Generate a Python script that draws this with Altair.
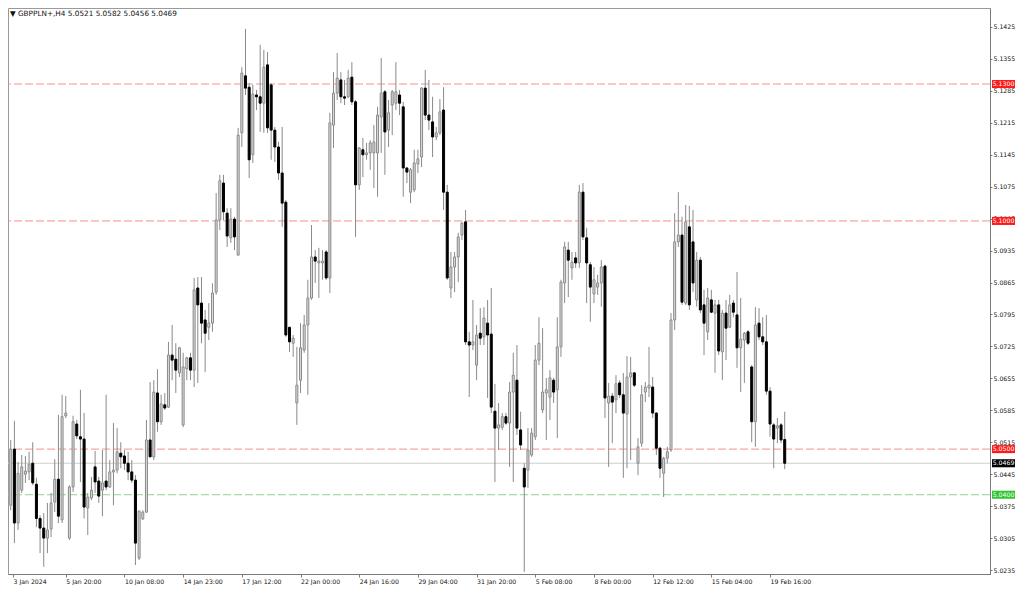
import altair as alt
import pandas as pd

# ---- candle data (H4 bars) ----
open_ = [
    5.0348, 5.0377, 5.0500, 5.0338, 5.0410, 5.0445, 5.0450, 5.0469, 5.0423, 5.0348,
    5.0327, 5.0305, 5.0325, 5.0384, 5.0434, 5.0345, 5.0573, 5.0305, 5.0417, 5.0555,
    5.0527, 5.0522, 5.0371, 5.0393, 5.0461, 5.0430, 5.0410, 5.0430, 5.0417, 5.0450,
    5.0454, 5.0491, 5.0485, 5.0469, 5.0450, 5.0432, 5.0261, 5.0347, 5.0362, 5.0520,
    5.0483, 5.0623, 5.0560, 5.0597, 5.0592, 5.0706, 5.0697, 5.0667, 5.0553, 5.0676,
    5.0700, 5.0673, 5.0853, 5.0820, 5.0783, 5.0767, 5.0776, 5.0844, 5.1002, 5.1083,
    5.1017, 5.0963, 5.1004, 5.0925, 5.1193, 5.1318, 5.1293, 5.1145, 5.1276, 5.1272,
    5.1258, 5.1342, 5.1298, 5.1199, 5.1162, 5.1105, 5.1041, 5.0767, 5.0732, 5.0601,
    5.0651, 5.0717, 5.0772, 5.0831, 5.0921, 5.0908, 5.0908, 5.0932, 5.0875, 5.1210,
    5.1280, 5.1309, 5.1272, 5.1272, 5.1315, 5.1261, 5.1079, 5.1156, 5.1145, 5.1149,
    5.1149, 5.1149, 5.1228, 5.1283, 5.1199, 5.1254, 5.1258, 5.1276, 5.1250, 5.1116,
    5.1063, 5.1068, 5.1125, 5.1140, 5.1291, 5.1232, 5.1217, 5.1184, 5.1193, 5.1243,
    5.1063, 5.0853, 5.0899, 5.0921, 5.0969, 5.0998, 5.0735, 5.0728, 5.0684, 5.0754,
    5.0746, 5.0776, 5.0752, 5.0583, 5.0546, 5.0548, 5.0571, 5.0557, 5.0625, 5.0651,
    5.0542, 5.0458, 5.0454, 5.0487, 5.0527, 5.0695, 5.0586, 5.0623, 5.0614, 5.0651,
    5.0630, 5.0724, 5.0864, 5.0936, 5.0897, 5.0919, 5.0908, 5.1063, 5.0963, 5.0904,
    5.0840, 5.0855, 5.0864, 5.0901, 5.0601, 5.0616, 5.0608, 5.0645, 5.0619, 5.0577,
    5.0658, 5.0667, 5.0469, 5.0513, 5.0625, 5.0634, 5.0636, 5.0579, 5.0502, 5.0447,
    5.0480, 5.0498, 5.0783, 5.0954, 5.0969, 5.0820, 5.0987, 5.0954, 5.0827, 5.0914,
    5.0816, 5.0757, 5.0827, 5.0798, 5.0816, 5.0713, 5.0798, 5.0767, 5.0820, 5.0794,
    5.0722, 5.0739, 5.0757, 5.0680, 5.0560, 5.0776, 5.0746, 5.0735, 5.0627, 5.0553,
    5.0546, 5.0553, 5.0521,
]
high = [
    5.0388, 5.0520, 5.0562, 5.0472, 5.0487, 5.0485, 5.0494, 5.0515, 5.0437, 5.0355,
    5.0360, 5.0382, 5.0404, 5.0478, 5.0575, 5.0619, 5.0616, 5.0421, 5.0573, 5.0564,
    5.0630, 5.0579, 5.0404, 5.0439, 5.0496, 5.0439, 5.0498, 5.0619, 5.0476, 5.0557,
    5.0546, 5.0515, 5.0498, 5.0494, 5.0476, 5.0443, 5.0366, 5.0366, 5.0564, 5.0647,
    5.0651, 5.0675, 5.0619, 5.0623, 5.0735, 5.0772, 5.0732, 5.0724, 5.0711, 5.0702,
    5.0711, 5.0875, 5.0877, 5.0877, 5.0805, 5.0820, 5.0863, 5.1061, 5.1101, 5.1101,
    5.1028, 5.1028, 5.1009, 5.1204, 5.1337, 5.1421, 5.1302, 5.1298, 5.1287, 5.1386,
    5.1375, 5.1370, 5.1302, 5.1206, 5.1173, 5.1206, 5.1046, 5.0767, 5.0750, 5.0724,
    5.0776, 5.0794, 5.0871, 5.0991, 5.0936, 5.0941, 5.0936, 5.0936, 5.1237, 5.1326,
    5.1368, 5.1326, 5.1309, 5.1331, 5.1348, 5.1265, 5.1162, 5.1182, 5.1171, 5.1177,
    5.1210, 5.1250, 5.1357, 5.1287, 5.1265, 5.1287, 5.1348, 5.1287, 5.1261, 5.1118,
    5.1116, 5.1156, 5.1156, 5.1293, 5.1331, 5.1309, 5.1272, 5.1206, 5.1267, 5.1293,
    5.1079, 5.0932, 5.0932, 5.0974, 5.0998, 5.1024, 5.0757, 5.0827, 5.0772, 5.0809,
    5.0811, 5.0827, 5.0853, 5.0643, 5.0601, 5.0579, 5.0579, 5.0647, 5.0711, 5.0728,
    5.0582, 5.0469, 5.0546, 5.0546, 5.0728, 5.0789, 5.0765, 5.0656, 5.0673, 5.0656,
    5.0789, 5.0871, 5.0954, 5.0954, 5.0932, 5.0932, 5.1079, 5.1083, 5.0985, 5.0910,
    5.0899, 5.0882, 5.0914, 5.0904, 5.0645, 5.0623, 5.0662, 5.0651, 5.0667, 5.0704,
    5.0702, 5.0669, 5.0524, 5.0640, 5.0647, 5.0724, 5.0658, 5.0581, 5.0505, 5.0483,
    5.0505, 5.0798, 5.1017, 5.1063, 5.1009, 5.1035, 5.1033, 5.1024, 5.0932, 5.0921,
    5.0849, 5.0853, 5.0849, 5.0827, 5.0827, 5.0805, 5.0827, 5.0838, 5.0827, 5.0888,
    5.0831, 5.0757, 5.0761, 5.0684, 5.0811, 5.0809, 5.0789, 5.0794, 5.0636, 5.0557,
    5.0568, 5.0557, 5.0582,
]
low = [
    5.0338, 5.0366, 5.0294, 5.0323, 5.0404, 5.0426, 5.0432, 5.0421, 5.0329, 5.0272,
    5.0242, 5.0272, 5.0307, 5.0362, 5.0338, 5.0338, 5.0568, 5.0301, 5.0406, 5.0522,
    5.0428, 5.0348, 5.0312, 5.0388, 5.0404, 5.0382, 5.0353, 5.0410, 5.0415, 5.0377,
    5.0447, 5.0458, 5.0454, 5.0432, 5.0426, 5.0246, 5.0257, 5.0345, 5.0360, 5.0483,
    5.0476, 5.0538, 5.0553, 5.0586, 5.0590, 5.0651, 5.0623, 5.0658, 5.0548, 5.0651,
    5.0651, 5.0636, 5.0645, 5.0732, 5.0669, 5.0739, 5.0757, 5.0838, 5.0980, 5.1002,
    5.0943, 5.0952, 5.0936, 5.0925, 5.1162, 5.1276, 5.1094, 5.1127, 5.1243, 5.1195,
    5.1193, 5.1193, 5.1134, 5.1129, 5.1090, 5.0987, 5.0746, 5.0713, 5.0702, 5.0553,
    5.0623, 5.0711, 5.0619, 5.0827, 5.0864, 5.0831, 5.0871, 5.0871, 5.0842, 5.1160,
    5.1265, 5.1258, 5.1254, 5.1269, 5.1254, 5.0965, 5.1068, 5.1096, 5.1134, 5.1112,
    5.1072, 5.1053, 5.1149, 5.1101, 5.1162, 5.1188, 5.1243, 5.1232, 5.1053, 5.1083,
    5.1039, 5.1063, 5.1105, 5.1118, 5.1221, 5.1199, 5.1140, 5.1177, 5.1188, 5.1024,
    5.0871, 5.0831, 5.0844, 5.0866, 5.0958, 5.0728, 5.0614, 5.0717, 5.0651, 5.0728,
    5.0728, 5.0612, 5.0579, 5.0428, 5.0498, 5.0542, 5.0553, 5.0461, 5.0428, 5.0531,
    5.0498, 5.0231, 5.0415, 5.0483, 5.0520, 5.0684, 5.0579, 5.0520, 5.0564, 5.0601,
    5.0524, 5.0702, 5.0820, 5.0833, 5.0871, 5.0897, 5.0897, 5.0958, 5.0820, 5.0779,
    5.0820, 5.0838, 5.0812, 5.0568, 5.0461, 5.0513, 5.0579, 5.0612, 5.0437, 5.0458,
    5.0476, 5.0636, 5.0443, 5.0505, 5.0603, 5.0614, 5.0568, 5.0487, 5.0437, 5.0395,
    5.0469, 5.0494, 5.0761, 5.0943, 5.0816, 5.0816, 5.0805, 5.0844, 5.0812, 5.0798,
    5.0706, 5.0739, 5.0798, 5.0667, 5.0706, 5.0651, 5.0695, 5.0765, 5.0789, 5.0678,
    5.0625, 5.0645, 5.0728, 5.0515, 5.0505, 5.0739, 5.0728, 5.0619, 5.0527, 5.0458,
    5.0513, 5.0513, 5.0456,
]
close = [
    5.0377, 5.0500, 5.0338, 5.0447, 5.0461, 5.0452, 5.0467, 5.0426, 5.0348, 5.0327,
    5.0305, 5.0323, 5.0382, 5.0434, 5.0353, 5.0571, 5.0579, 5.0417, 5.0560, 5.0529,
    5.0522, 5.0373, 5.0395, 5.0410, 5.0428, 5.0397, 5.0426, 5.0417, 5.0450, 5.0454,
    5.0494, 5.0483, 5.0469, 5.0450, 5.0432, 5.0294, 5.0364, 5.0362, 5.0520, 5.0483,
    5.0625, 5.0560, 5.0599, 5.0590, 5.0706, 5.0695, 5.0673, 5.0722, 5.0680, 5.0700,
    5.0673, 5.0849, 5.0816, 5.0776, 5.0754, 5.0776, 5.0842, 5.1002, 5.1088, 5.1020,
    5.0967, 5.1004, 5.0965, 5.1188, 5.1324, 5.1291, 5.1134, 5.1278, 5.1272, 5.1258,
    5.1337, 5.1204, 5.1199, 5.1162, 5.1105, 5.1039, 5.0750, 5.0735, 5.0743, 5.0640,
    5.0722, 5.0772, 5.0831, 5.0921, 5.0912, 5.0912, 5.0912, 5.0875, 5.1215, 5.1280,
    5.1313, 5.1272, 5.1269, 5.1313, 5.1261, 5.1079, 5.1160, 5.1145, 5.1149, 5.1171,
    5.1173, 5.1232, 5.1280, 5.1195, 5.1237, 5.1283, 5.1283, 5.1258, 5.1116, 5.1107,
    5.1112, 5.1127, 5.1136, 5.1291, 5.1232, 5.1221, 5.1184, 5.1193, 5.1239, 5.1063,
    5.0875, 5.0899, 5.0921, 5.0965, 5.0995, 5.0735, 5.0728, 5.0735, 5.0750, 5.0743,
    5.0787, 5.0750, 5.0592, 5.0546, 5.0553, 5.0571, 5.0557, 5.0625, 5.0662, 5.0546,
    5.0509, 5.0417, 5.0498, 5.0535, 5.0695, 5.0732, 5.0625, 5.0630, 5.0656, 5.0625,
    5.0724, 5.0866, 5.0943, 5.0914, 5.0910, 5.0908, 5.1063, 5.0965, 5.0908, 5.0855,
    5.0871, 5.0864, 5.0899, 5.0612, 5.0616, 5.0603, 5.0643, 5.0619, 5.0579, 5.0658,
    5.0667, 5.0640, 5.0505, 5.0619, 5.0636, 5.0640, 5.0579, 5.0502, 5.0458, 5.0480,
    5.0494, 5.0783, 5.0954, 5.0969, 5.0822, 5.0998, 5.0816, 5.0864, 5.0914, 5.0805,
    5.0776, 5.0831, 5.0800, 5.0816, 5.0715, 5.0798, 5.0765, 5.0816, 5.0800, 5.0722,
    5.0741, 5.0754, 5.0732, 5.0560, 5.0772, 5.0746, 5.0735, 5.0627, 5.0555, 5.0522,
    5.0551, 5.0520, 5.0469,
]

# ---- axis labels ----
x_labels = ["3 Jan 2024", "5 Jan 20:00", "10 Jan 08:00", "14 Jan 23:00",
            "17 Jan 12:00", "22 Jan 00:00", "24 Jan 16:00", "29 Jan 04:00",
            "31 Jan 20:00", "5 Feb 08:00", "8 Feb 00:00", "12 Feb 12:00",
            "15 Feb 04:00", "19 Feb 16:00"]
x_label_bars = [0, 16, 32, 48, 64, 80, 96, 112, 128, 144, 160, 176, 192, 208]
y_ticks = [5.0235, 5.0305, 5.0375, 5.0445, 5.0515, 5.0585, 5.0655, 5.0725,
           5.0795, 5.0865, 5.0935, 5.1005, 5.1075, 5.1145, 5.1215, 5.1285,
           5.1355, 5.1425]

# ---- horizontal levels and price tags ----
red_levels = [5.1300, 5.1000, 5.0500]
green_levels = [5.0400]
last_price = [5.0469]
tag_values = [5.1300, 5.1000, 5.0500, 5.0469, 5.0400]
tag_text = ["5.1300", "5.1000", "5.0500", "5.0469", "5.0400"]
tag_colors = ["#ff1a1a", "#ff1a1a", "#ff1a1a", "#000000", "#33c433"]
header = "\u25bc GBPPLN+,H4  5.0521 5.0582 5.0456 5.0469"

n = len(open_)
assert len(high) == n and len(low) == n and len(close) == n
df = pd.DataFrame({"bar": list(range(n)), "open": open_, "high": high,
                   "low": low, "close": close})
df["dir"] = ["up" if c >= o else "down" for o, c in zip(open_, close)]

W, H = 982, 566
PAD_R, PAD_B = 26, 11
FONT = "DejaVu Sans"
FS = 6.2
x_dom = [1.619, 266.6]
y_dom = [5.02263, 5.14666]

x_values = [x_dom[0]] + x_label_bars[1:]
lab_js = "[" + ",".join("'%s'" % s for s in x_labels) + "]"

x_axis = alt.Axis(values=x_values, labelExpr=lab_js + "[round(datum.value/16)]",
                  orient="bottom", title=None, grid=False, tickSize=3,
                  labelAlign="left", labelPadding=1, labelFlush=False,
                  labelOverlap=False, labelBound=False,
                  domainColor="#7a7a7a", tickColor="#7a7a7a", labelColor="#111",
                  labelFont=FONT, labelFontSize=FS)
y_axis = alt.Axis(values=y_ticks, format=".4f", orient="right", title=None,
                  grid=False, tickSize=2, labelPadding=1, labelFlush=False,
                  labelOverlap=False, labelBound=False,
                  domainColor="#7a7a7a", tickColor="#7a7a7a", labelColor="#111",
                  labelFont=FONT, labelFontSize=FS)

xs = alt.Scale(domain=x_dom, nice=False, zero=False)
ys = alt.Scale(domain=y_dom, nice=False, zero=False)

def X(field):
    return alt.X(field, type="quantitative", scale=xs, axis=x_axis)

def Y(field):
    return alt.Y(field, type="quantitative", scale=ys, axis=y_axis)

base = alt.Chart(df)

wicks = base.mark_rule(color="#8a8a8a", strokeWidth=1, clip=True).encode(
    x=X("bar"), y=Y("low"), y2="high")

up = base.transform_filter(alt.datum.dir == "up").mark_bar(
    width=2, fill="#dadada", stroke="#8a8a8a", strokeWidth=1, clip=True
).encode(x=X("bar"), y=Y("open"), y2="close")

down = base.transform_filter(alt.datum.dir == "down").mark_bar(
    width=2, fill="#000000", stroke="#000000", strokeWidth=1, clip=True
).encode(x=X("bar"), y=Y("open"), y2="close")

red_df = pd.DataFrame({"level": red_levels})
green_df = pd.DataFrame({"level": green_levels})
last_df = pd.DataFrame({"level": last_price})

red_lines = alt.Chart(red_df).mark_rule(
    color="#f58f8f", strokeWidth=1, strokeDash=[8, 3]).encode(y=Y("level"))
green_lines = alt.Chart(green_df).mark_rule(
    color="#8fd68f", strokeWidth=1, strokeDash=[8, 3]).encode(y=Y("level"))
last_line = alt.Chart(last_df).mark_rule(
    color="#cfcfcf", strokeWidth=1).encode(y=Y("level"))

tags_df = pd.DataFrame({"level": tag_values, "txt": tag_text, "col": tag_colors})
TAG_X = W + 13.5
tag_box = alt.Chart(tags_df).mark_point(
    shape="M-1,-0.35L1,-0.35L1,0.35L-1,0.35Z", filled=True, size=529,
    opacity=1, strokeWidth=0, clip=False
).encode(x=alt.value(TAG_X), y=Y("level"),
         color=alt.Color("col:N", scale=None, legend=None))
tag_lbl = alt.Chart(tags_df).mark_text(
    color="#ffffff", font=FONT, fontSize=FS, align="center", baseline="middle",
    clip=False
).encode(x=alt.value(TAG_X), y=Y("level"), text="txt:N")

head = alt.Chart(pd.DataFrame({"t": [header]})).mark_text(
    font=FONT, fontSize=7.3, align="left", baseline="middle", color="#111"
).encode(x=alt.value(2), y=alt.value(6), text="t:N")

chart = alt.layer(
    red_lines, green_lines, last_line, wicks, up, down, tag_box, tag_lbl, head
).properties(
    width=W, height=H,
    autosize=alt.AutoSizeParams(type="none"),
    padding={"left": 0, "top": 0, "right": PAD_R, "bottom": PAD_B},
    background="#ffffff",
).configure_view(stroke="#9a9a9a", strokeWidth=1)

chart.save("out.html", embed_options={"renderer": "svg", "actions": False})
